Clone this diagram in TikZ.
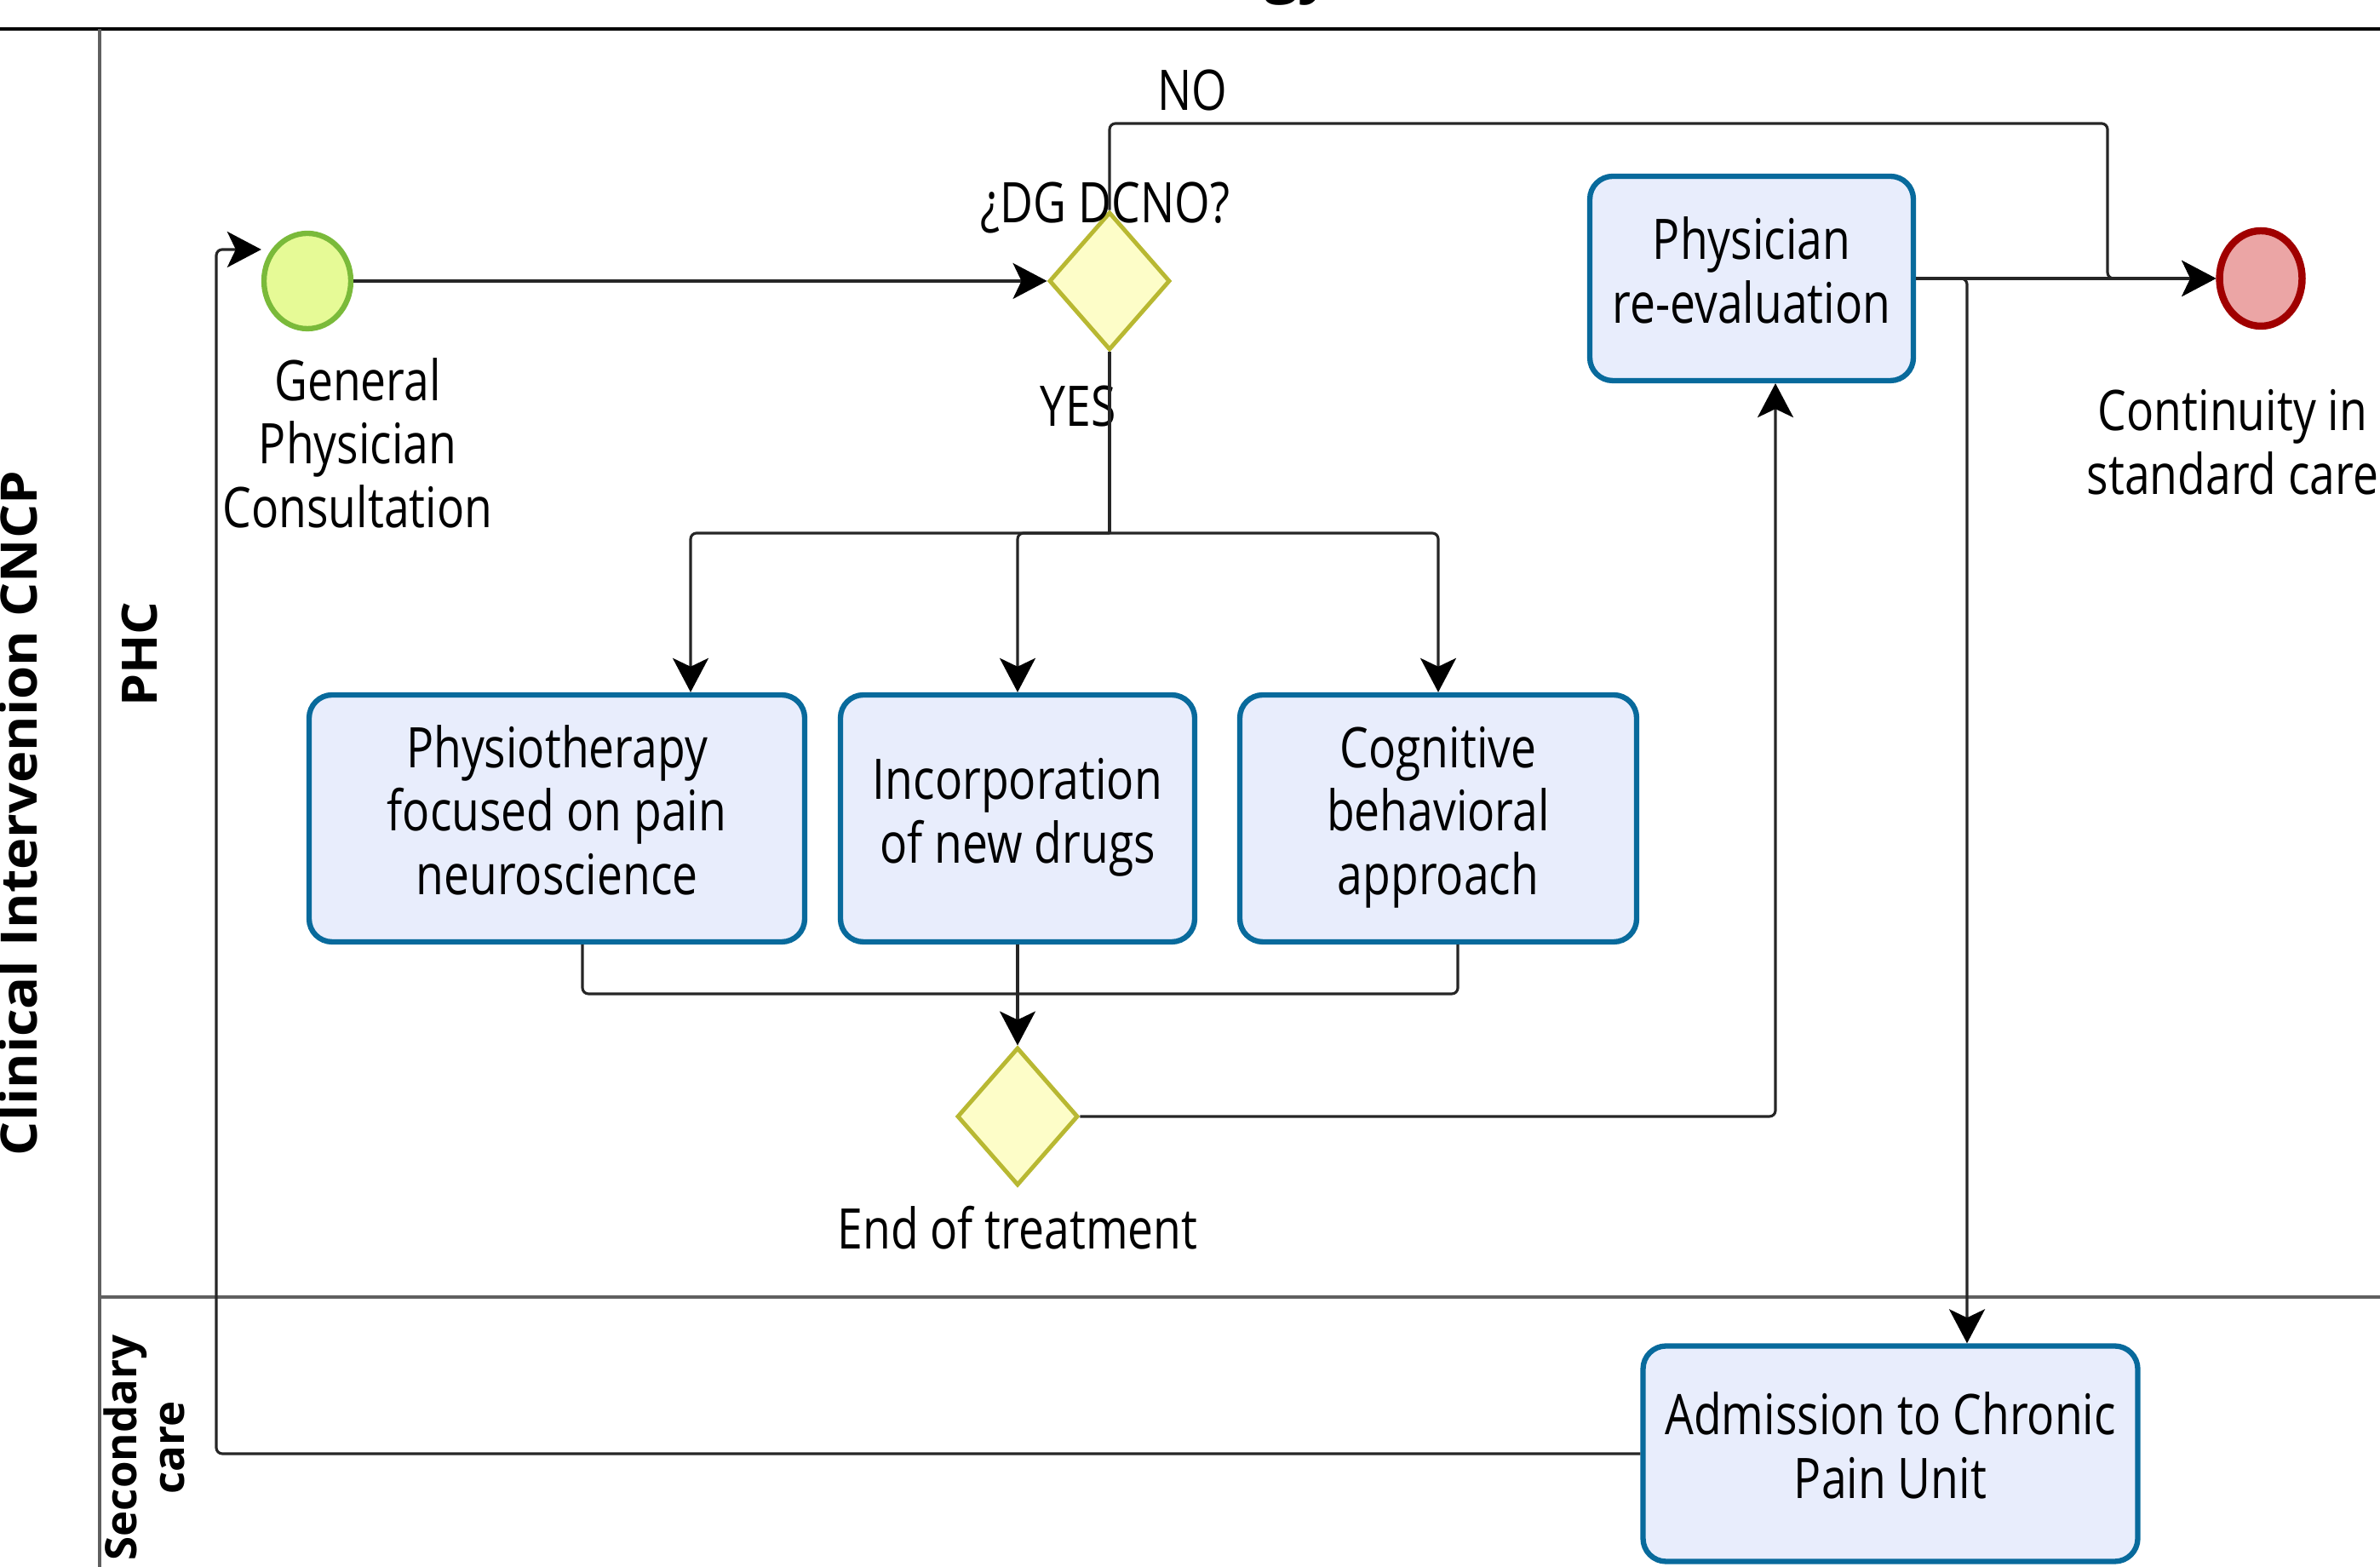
\documentclass[tikz,border=0pt]{standalone}
\usepackage{fontspec}
\setmainfont{Open Sans}
\usepackage{graphicx}
\usetikzlibrary{shapes.geometric,arrows.meta}

\definecolor{taskline}{RGB}{8,106,156}
\definecolor{taskfill}{RGB}{232,237,252}
\definecolor{startline}{RGB}{122,186,58}
\definecolor{startfill}{RGB}{230,250,150}
\definecolor{endline}{RGB}{160,0,0}
\definecolor{endfill}{RGB}{235,165,165}
\definecolor{gateline}{RGB}{184,184,50}
\definecolor{gatefill}{RGB}{253,253,200}

% texte etire en hauteur
\newcommand{\tx}[1]{\scalebox{1}[1.23]{\begin{tabular}{@{}c@{}}#1\end{tabular}}}
% texte tourne, etire en longueur
\newcommand{\rtx}[2]{\scalebox{#1}[1]{\begin{tabular}{@{}c@{}}#2\end{tabular}}}

\begin{document}
\begin{tikzpicture}[scale=1,
  txt/.style={font=\fontsize{15.2}{17.3}\selectfont, inner sep=0pt},
  task/.style={txt, draw=taskline, fill=taskfill, line width=1.8pt, rounded corners=0.27cm},
  gate/.style={diamond, draw=gateline, fill=gatefill, line width=1.4pt, inner sep=0pt, minimum width=1.42cm, minimum height=1.62cm},
  startev/.style={ellipse, draw=startline, fill=startfill, line width=1.8pt, minimum width=1.02cm, minimum height=1.12cm, inner sep=0pt},
  endev/.style={ellipse, draw=endline, fill=endfill, line width=2.4pt, minimum width=0.97cm, minimum height=1.12cm, inner sep=0pt},
  lanelab/.style={rotate=90, inner sep=0pt},
  flow/.style={draw=black!85, line width=0.9pt, rounded corners=2pt, -{Stealth[length=0.4cm,width=0.42cm,inset=0.1cm,color=black]}},
  wire/.style={draw=black!85, line width=0.9pt, rounded corners=2pt}]
\useasboundingbox (0,0) rectangle (27.95,18.40);

%titre coupe
\node[inner sep=0pt, anchor=base, font=\fontsize{20}{24}\selectfont\bfseries] (title) at (15.25,18.50) {gy};

%couloirs
\draw[line width=1.1pt] (0,18.06) -- (27.95,18.06);
\draw[gray!75!black, line width=1.1pt] (1.17,18.06) -- (1.17,0);
\draw[gray!75!black, line width=1.1pt] (1.17,3.17) -- (27.95,3.17);
\node[lanelab, font=\fontsize{16.8}{18}\selectfont\bfseries] (pool) at (0.31,8.85) {\rtx{1.07}{Clinical Intervenion CNCP}};
\node[lanelab, font=\fontsize{16.3}{18}\selectfont\bfseries] (phc) at (1.72,10.72) {\rtx{1.06}{PHC}};
\node[lanelab, font=\fontsize{14.5}{15.9}\selectfont\bfseries] (sec) at (1.77,1.40) {\rtx{1}{Secondary\\care}};

%evenements et portes
\node[startev] (start) at (3.61,15.10) {};
\node[txt] (startlab) at (4.20,13.10) {\tx{General\\Physician\\Consultation}};
\node[gate] (dg) at (13.03,15.10) {};
\node[txt] (dglab) at (12.98,15.93) {\tx{¿DG DCNO?}};
\node[txt] (nolab) at (14.00,17.25) {\tx{NO}};
\node[txt] (yeslab) at (12.66,13.54) {\tx{YES}};
\node[endev] (stdcare) at (26.55,15.13) {};
\node[txt] (stdlab) at (26.22,13.12) {\tx{Continuity in\\standard care}};
\node[gate] (endtr) at (11.95,5.29) {};
\node[txt] (endlab) at (11.95,3.88) {\tx{End of treatment}};

%taches
\node[task, minimum width=3.80cm, minimum height=2.40cm] (reeval) at (20.57,15.13) {\tx{Physician\\re-evaluation}};
\node[task, minimum width=5.82cm, minimum height=2.90cm] (physio) at (6.54,8.79) {\tx{Physiotherapy\\focused on pain\\neuroscience}};
\node[task, minimum width=4.16cm, minimum height=2.90cm] (incorp) at (11.95,8.79) {\tx{Incorporation\\of new drugs}};
\node[task, minimum width=4.66cm, minimum height=2.90cm] (cognit) at (16.89,8.79) {\tx{Cognitive\\behavioral\\approach}};
\node[task, minimum width=5.81cm, minimum height=2.53cm] (admit) at (22.20,1.33) {\tx{Admission to Chronic\\Pain Unit}};

%points de passage
\coordinate (nobend) at (24.75,16.95);
\coordinate (split) at (13.03,12.14);
\coordinate (merge) at (11.95,6.73);
\coordinate (cpu) at (23.10,15.13);
\coordinate (loopup) at (2.54,15.47);

%fleches
\draw[flow] (start) -- (dg.west);
\draw[flow] (dg.north) |- (nobend) |- (stdcare.west);
\draw[wire] (dg.south) -- (split);
\draw[flow] (split) -| ([xshift=1.57cm]physio.north);
\draw[flow] (split) -| (incorp.north);
\draw[flow] (split) -| (cognit.north);
\draw[wire] ([xshift=0.30cm]physio.south) |- (merge);
\draw[wire] ([xshift=0.23cm]cognit.south) |- (merge);
\draw[flow] (incorp.south) -- (endtr.north);
\draw[flow] (endtr.east) -| ([xshift=0.28cm]reeval.south);
\draw[flow] (reeval.east) -- (stdcare.west);
\draw[flow] (reeval.east) -| (cpu |- admit.north);
\draw[flow] (admit.west) -| (loopup) -- (loopup -| start.west);

\end{tikzpicture}
\end{document}
